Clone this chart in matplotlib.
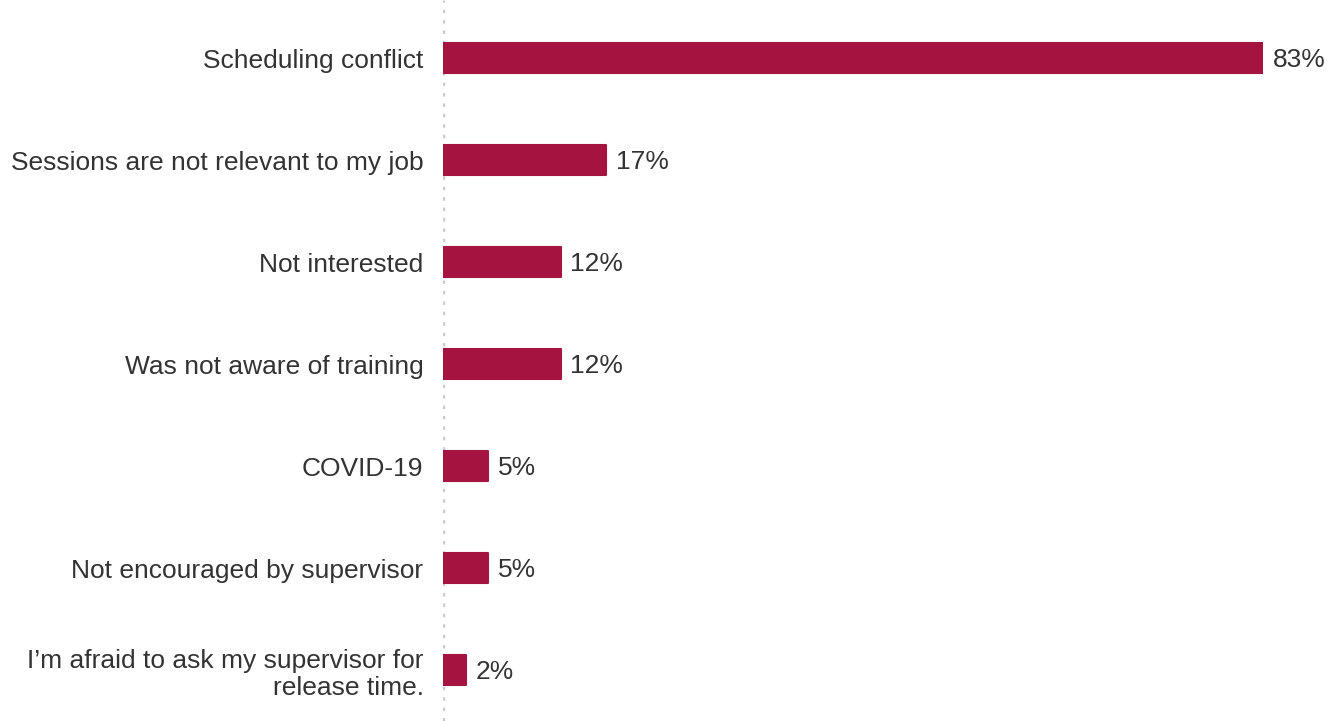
import matplotlib
matplotlib.use("Agg")
import matplotlib.pyplot as plt

categories = [
    "Scheduling conflict",
    "Sessions are not relevant to my job",
    "Not interested",
    "Was not aware of training",
    "COVID-19",
    "Not encouraged by supervisor",
    "I\u2019m afraid to ask my supervisor for\nrelease time.",
]
values = [83, 16.5, 11.9, 11.9, 4.6, 4.6, 2.3]
labels = ["83%", "17%", "12%", "12%", "5%", "5%", "2%"]

plt.rcParams["font.family"] = ["Liberation Sans", "DejaVu Sans"]

fig = plt.figure(figsize=(13.4, 7.21), dpi=100)
ax = fig.add_axes([443 / 1340, 0, (1263 - 443) / 1340, 1])

pos = list(range(len(categories)))
bars = ax.barh(pos, values, height=0.30, color="#A51440",
               edgecolor="#A51440", linewidth=1.5)
for b in bars:
    b.set_joinstyle("round")

ax.set_xlim(0, max(values))
ax.set_ylim(len(categories) - 0.5, -0.569)

# dotted axis line
ax.axvline(0, color="#cccccc", linestyle=(0, (1, 2.0)), linewidth=2.5,
           dash_capstyle="butt", zorder=0)

for p, v, lab in zip(pos, values, labels):
    ax.text(v + 1.0, p + 0.02, lab, va="center", ha="left", fontsize=19,
            color="#333333", clip_on=False)

ax.set_yticks(pos)
ax.set_yticklabels(categories, fontsize=19, color="#333333",
                   linespacing=1.2)
ax.tick_params(axis="y", length=0, pad=14)
ax.set_xticks([])
for s in ax.spines.values():
    s.set_visible(False)

fig.savefig("out.png", dpi=100)
